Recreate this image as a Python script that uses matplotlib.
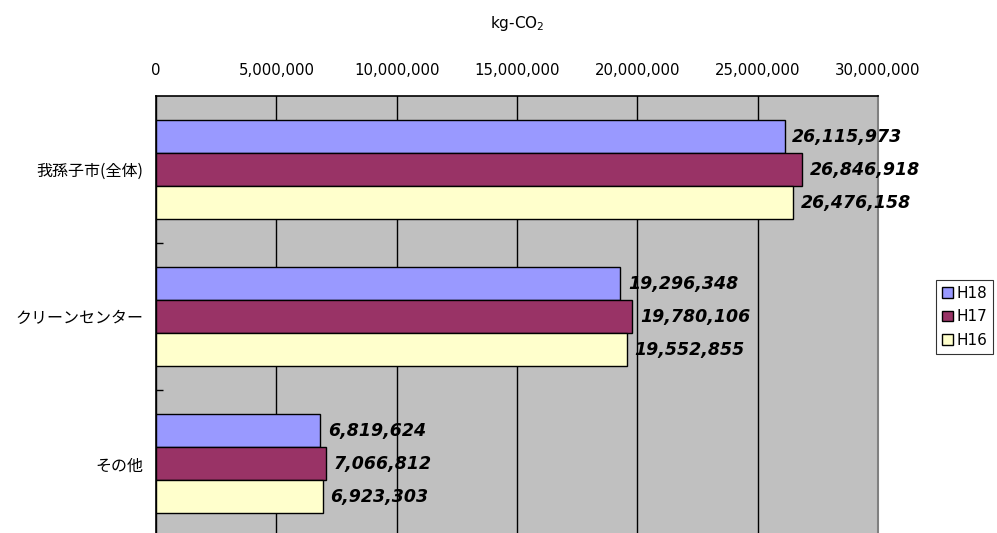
import matplotlib
matplotlib.use("Agg")
import matplotlib.pyplot as plt
import matplotlib.ticker as mticker
import numpy as np

plt.rcParams['font.family'] = ['DejaVu Sans', 'Noto Sans CJK JP']

categories = ['我孫子市(全体)', 'クリーンセンター', 'その他']
series = ['H18', 'H17', 'H16']
h18 = [26115973, 19296348, 6819624]
h17 = [26846918, 19780106, 7066812]
h16 = [26476158, 19552855, 6923303]
colors = ['#9999FF', '#993366', '#FFFFCC']

fig = plt.figure(figsize=(9.97, 5.33), dpi=100)
ax = fig.add_axes([0.1565, -0.0084, 0.7242, 0.8283])
ax.set_facecolor('#C0C0C0')

y = np.arange(len(categories))
bh = 0.2245
for i, (name, vals, c) in enumerate(zip(series, [h18, h17, h16], colors)):
    pos = y + (i - 1) * bh
    ax.barh(pos, vals, height=bh, color=c, edgecolor='black', linewidth=1, label=name, zorder=3)
    for p, v in zip(pos, vals):
        ax.text(v + 320000, p, f'{v:,}', va='center', ha='left', fontsize=12.5,
                fontweight='bold', fontstyle='italic', zorder=4)

ax.set_xlim(0, 30000000)
ax.set_ylim(2.5, -0.5)
ax.xaxis.set_major_locator(mticker.MultipleLocator(5000000))
ax.xaxis.set_major_formatter(mticker.FuncFormatter(lambda v, p: f'{int(v):,}'))
ax.xaxis.tick_top()
ax.tick_params(axis='x', length=0, pad=13, labelsize=10.7)
ax.grid(axis='x', color='black', linewidth=1, zorder=1)

ax.set_yticks(y)
ax.set_yticklabels(categories, fontsize=11.5, family=['Noto Sans CJK JP', 'DejaVu Sans'])
ax.tick_params(axis='y', which='major', length=0, pad=9)
ax.set_yticks([0.5, 1.5], minor=True)
ax.tick_params(axis='y', which='minor', length=5, direction='in', width=1)

for s in ['top', 'left']:
    ax.spines[s].set_color('black')
    ax.spines[s].set_linewidth(1.2)
ax.spines['right'].set_color('#808080')
ax.spines['right'].set_linewidth(1.5)
ax.spines['bottom'].set_visible(False)

fig.text(0.5186, 0.955, 'kg-CO$_2$', ha='center', va='center', fontsize=11)

leg = ax.legend(loc='center left', bbox_to_anchor=(1.08, 0.5), frameon=True, fancybox=False,
                fontsize=11, handlelength=0.7, handleheight=0.7, handletextpad=0.25,
                borderpad=0.4, labelspacing=0.55, borderaxespad=0)
leg.get_frame().set_edgecolor('black')
leg.get_frame().set_linewidth(0.8)

fig.savefig('out.png', dpi=100)
